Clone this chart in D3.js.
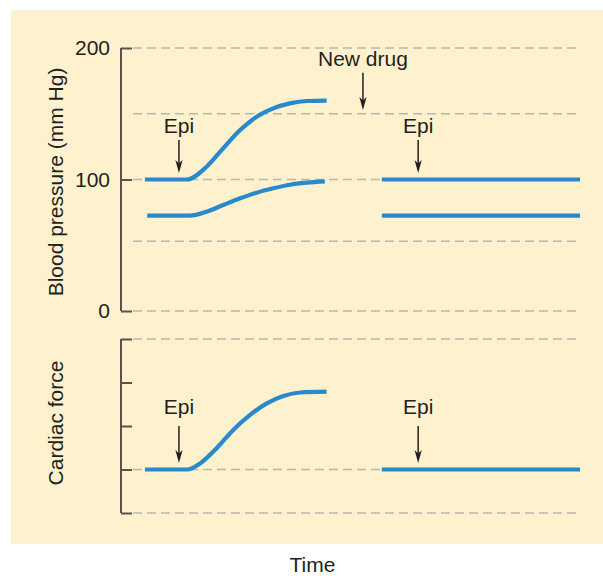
<!DOCTYPE html>
<html><head><meta charset="utf-8">
<script src="https://cdn.jsdelivr.net/npm/d3@7"></script>
<style>
html,body{margin:0;padding:0;background:#fff;}
svg{display:block;font-family:"Liberation Sans",Arial,Helvetica,sans-serif;}
</style></head>
<body><svg id="c" width="603" height="576"></svg>
<script>
// ---- data ----
const bpTicks = [0, 100, 200];
const bpGrid = [0, 53, 100, 150, 200];
const systolicT = [5.2, 14.3, 18.6, 22.2, 25.9, 29.5, 33.1, 36.7, 40.4, 44.7];
const systolicV = [100, 100, 109.7, 123.7, 137.6, 147.8, 154.1, 157.9, 159.7, 160];
const diastolicT = [5.7, 15.0, 18.6, 22.2, 25.9, 29.5, 33.1, 36.7, 40.4, 44.3];
const diastolicV = [72.5, 72.5, 75.5, 80.6, 85.7, 90, 93.3, 96, 97.6, 98.6];
const afterT = [56.7, 99.8];
const systolicAfter = [100, 100];
const diastolicAfter = [72.5, 72.5];
const cfTicks = [0, 1, 2, 3, 4];
const cfGrid = [0, 1, 4];
const cardiacT = [5.2, 14.4, 17.2, 20.8, 24.4, 28, 31.7, 35.3, 38.9, 44.7];
const cardiacV = [1, 1, 1.14, 1.49, 1.91, 2.25, 2.52, 2.69, 2.77, 2.79];
const cardiacAfter = [1, 1];
// annotations: [label, time, from value, to value]
const bpArrows = [["Epi", 12.6, 130, 105], ["Epi", 64.6, 130, 105], ["New drug", 52.6, 181.2, 152.9]];
const cfArrows = [["Epi", 12.6, 2.0, 1.15], ["Epi", 64.6, 2.0, 1.15]];

// ---- layout ----
const svg = d3.select("#c");
const ink = "#231f20", blue = "#2889cc", grid = "#b9b6ac", axisCol = "#58534d";
svg.append("rect").attr("x", 11).attr("y", 10).attr("width", 592).attr("height", 534).attr("fill", "#fdf2cd");

const x = d3.scaleLinear().domain([0, 100]).range([121, 581]);
const yBP = d3.scaleLinear().domain([0, 200]).range([311, 48]);
const yCF = d3.scaleLinear().domain([0, 4]).range([513, 339]);

function panel(y, ticks, gridVals, labels, title, titleY, series, arrows, arrowLabelOffset) {
  const g = svg.append("g");
  g.selectAll("line.grid").data(gridVals).join("line")
    .attr("x1", 133).attr("x2", x(100)).attr("y1", d => y(d)).attr("y2", d => y(d))
    .attr("stroke", grid).attr("stroke-width", 1.6).attr("stroke-dasharray", "9,5");
  const ax = d3.axisLeft(y).tickValues(ticks).tickSize(-11).tickSizeOuter(0).tickPadding(11)
    .tickFormat(labels ? d3.format("d") : () => "");
  const a = g.append("g").attr("transform", `translate(${x(0)},0)`).call(ax);
  a.select(".domain").attr("stroke", axisCol).attr("stroke-width", 2).attr("d", `M0,${y.range()[1]}V${y.range()[0]}`);
  a.selectAll(".tick line").attr("stroke", axisCol).attr("stroke-width", 2);
  a.selectAll(".tick text").attr("fill", ink).attr("font-size", 21).attr("font-family", "Liberation Sans, Arial, sans-serif");
  const line = d3.line().x(d => x(d[0])).y(d => y(d[1])).curve(d3.curveMonotoneX);
  series.forEach(s => {
    g.append("path").datum(s[0].map((t, i) => [t, s[1][i]])).attr("d", line)
      .attr("fill", "none").attr("stroke", blue).attr("stroke-width", 4.2);
  });
  arrows.forEach(([lab, t, v0, v1]) => {
    const ax0 = x(t), yt = y(v0), yb = y(v1);
    g.append("line").attr("x1", ax0).attr("x2", ax0).attr("y1", yt).attr("y2", yb - 6)
      .attr("stroke", ink).attr("stroke-width", 1.5);
    g.append("path")
      .attr("d", `M${ax0},${yb} L${ax0 - 3.6},${yb - 13} L${ax0},${yb - 9.5} L${ax0 + 3.6},${yb - 13} Z`)
      .attr("fill", ink);
    g.append("text").attr("x", ax0).attr("y", yt - arrowLabelOffset).attr("text-anchor", "middle")
      .attr("font-size", 21).attr("fill", ink).text(lab);
  });
  g.append("text").attr("transform", `translate(63,${titleY}) rotate(-90)`).attr("text-anchor", "middle")
    .attr("font-size", 21).attr("fill", ink).text(title);
}

panel(yBP, bpTicks, bpGrid, true, "Blood pressure (mm Hg)", 182,
  [[systolicT, systolicV], [diastolicT, diastolicV], [afterT, systolicAfter], [afterT, diastolicAfter]],
  bpArrows, 7);
panel(yCF, cfTicks, cfGrid, false, "Cardiac force", 423,
  [[cardiacT, cardiacV], [afterT, cardiacAfter]], cfArrows, 12);

svg.append("text").attr("x", 312.5).attr("y", 572).attr("text-anchor", "middle")
  .attr("font-size", 21).attr("fill", ink).text("Time");
</script></body></html>
